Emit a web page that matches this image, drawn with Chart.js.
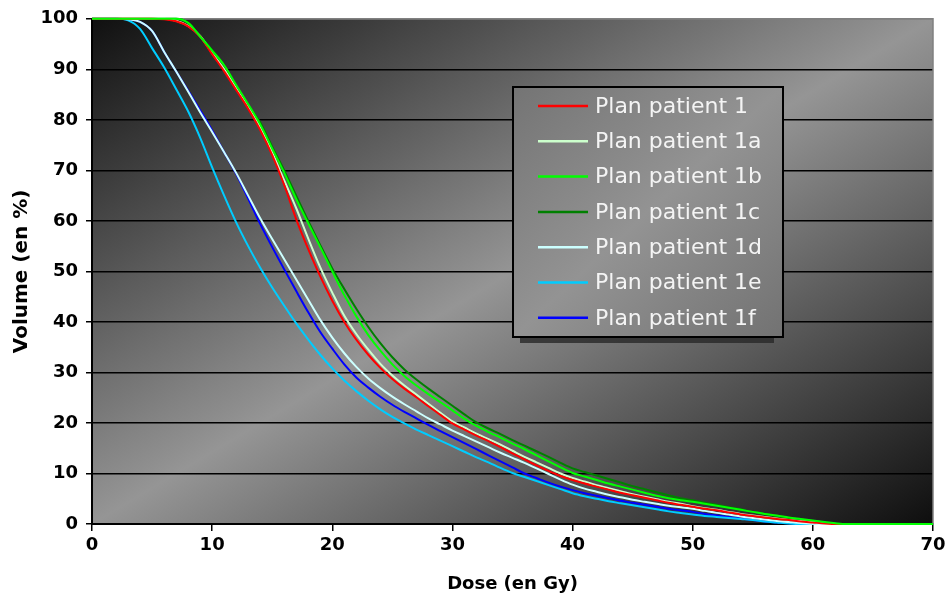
<!DOCTYPE html>
<html>
<head>
<meta charset="utf-8">
<title>Dose-volume histogram</title>
<script src="https://cdn.jsdelivr.net/npm/chart.js@4.4.1/dist/chart.umd.min.js"></script>
<style>
    body { margin: 0; background: #ffffff; }
    #wrap { width: 951px; height: 597px; }
</style>
</head>
<body>
<div id="wrap"><canvas id="dvhChart" width="951" height="597"></canvas></div>
<script>
// Dose axis (Gy) - one sample per Gy
const doses = [0, 1, 2, 3, 4, 5, 6, 7, 8, 9, 10, 11, 12, 13, 14, 15, 16, 17, 18, 19, 20,
    21, 22, 23, 24, 25, 26, 27, 28, 29, 30, 31, 32, 33, 34, 35, 36, 37, 38, 39, 40,
    41, 42, 43, 44, 45, 46, 47, 48, 49, 50, 51, 52, 53, 54, 55, 56, 57, 58, 59, 60,
    61, 62, 63, 64, 65, 66, 67, 68, 69, 70];

// Volume (%) for each plan
const plan1 = [100, 100, 100, 100, 100, 100, 99.9, 99.5, 98.5, 96.5, 93, 89.6, 85.9, 82.2, 78, 73, 67.1, 60.3, 54.4, 49, 44.2,
    40.0, 36.5, 33.5, 30.9, 28.7, 26.8, 25.1, 23.3, 21.6, 19.9, 18.7, 17.5, 16.4, 15.2, 14.0, 12.8, 11.6, 10.5, 9.5, 8.7,
    8.0, 7.4, 6.8, 6.2, 5.7, 5.2, 4.7, 4.2, 3.8, 3.4, 3.0, 2.7, 2.3, 1.9, 1.6, 1.3, 1.0, 0.8, 0.5, 0.3,
    0.1, 0, 0, 0, 0, 0, 0, 0, 0, 0];
const plan1a = [100, 100, 100, 100, 100, 100, 100, 99.6, 98.6, 96.6, 93.2, 90, 86.2, 82.5, 78.5, 73.5, 68, 62.5, 56.5, 50.8, 45.8,
    41.2, 37.6, 34.5, 31.7, 29.4, 27.4, 25.6, 23.8, 22.0, 20.3, 19.1, 17.9, 16.8, 15.7, 14.5, 13.3, 12.2, 11.1, 10, 9.1,
    8.4, 7.7, 7.1, 6.5, 5.9, 5.4, 4.9, 4.4, 4.0, 3.5, 3.1, 2.8, 2.4, 2.0, 1.7, 1.4, 1.1, 0.8, 0.6, 0.4,
    0.15, 0, 0, 0, 0, 0, 0, 0, 0, 0];
const plan1b = [100, 100, 100, 100, 100, 100, 100, 100, 99.2, 96.5, 93.7, 90.8, 86.9, 83.1, 79.1, 74.3, 69.5, 64.3, 59.5, 54.8, 50,
    45.3, 41.1, 37.4, 34.3, 31.6, 29.3, 27.4, 25.7, 24.1, 22.5, 20.8, 19.4, 18.2, 17.1, 15.9, 14.8, 13.6, 12.4, 11.2, 10.1,
    9.4, 8.7, 8.0, 7.4, 6.8, 6.2, 5.6, 5.1, 4.7, 4.4, 4.0, 3.6, 3.2, 2.8, 2.4, 2.0, 1.7, 1.3, 1.0, 0.7,
    0.4, 0.1, 0, 0, 0, 0, 0, 0, 0, 0];
const plan1c = [100, 100, 100, 100, 100, 100, 100, 100, 99.2, 96.6, 93.8, 90.8, 86.8, 83, 79.5, 74.7, 70, 65, 60, 55.2, 50.6,
    46.5, 42.6, 39.0, 35.8, 33.0, 30.6, 28.6, 26.8, 25.1, 23.4, 21.7, 20.1, 18.9, 17.8, 16.6, 15.5, 14.4, 13.3, 12.1, 11.0,
    10.3, 9.6, 8.9, 8.2, 7.5, 6.9, 6.3, 5.7, 5.1, 4.7, 4.2, 3.8, 3.3, 2.9, 2.4, 2.0, 1.6, 1.2, 0.9, 0.6,
    0.3, 0.05, 0, 0, 0, 0, 0, 0, 0, 0];
const plan1d = [100, 100, 100, 99.9, 99.4, 97.6, 93.5, 89.6, 85.6, 81.5, 77.6, 73.6, 69.5, 65, 60.5, 56.4, 52.4, 48.4, 44.4, 40.4, 36.9,
    33.8, 31.1, 28.8, 26.9, 25.2, 23.7, 22.3, 20.9, 19.7, 18.5, 17.4, 16.3, 15.2, 14.1, 13.1, 12.1, 11.0, 9.9, 8.8, 7.8,
    7.0, 6.4, 5.8, 5.3, 4.8, 4.4, 4.0, 3.6, 3.3, 3.0, 2.6, 2.2, 1.9, 1.5, 1.2, 0.9, 0.6, 0.4, 0.2, 0.05,
    0, 0, 0, 0, 0, 0, 0, 0, 0, 0];
const plan1e = [100, 100, 100, 99.7, 98, 94.2, 90.4, 86.1, 81.7, 76.5, 70.6, 65, 59.7, 55, 50.7, 46.8, 43.2, 39.7, 36.5, 33.5, 30.8,
    28.4, 26.3, 24.4, 22.7, 21.2, 19.9, 18.7, 17.6, 16.5, 15.4, 14.3, 13.2, 12.2, 11.1, 10.1, 9.3, 8.5, 7.7, 6.9, 6.1,
    5.5, 5.0, 4.5, 4.1, 3.7, 3.3, 2.9, 2.5, 2.2, 1.9, 1.6, 1.4, 1.2, 1.0, 0.8, 0.5, 0.3, 0.1, 0, 0,
    0, 0, 0, 0, 0, 0, 0, 0, 0, 0];
const plan1f = [100, 100, 100, 99.9, 99.4, 97.6, 93.5, 89.6, 85.8, 81.9, 77.9, 73.6, 69.3, 64.4, 59.4, 54.8, 50.4, 46.1, 41.9, 38.0, 34.7,
    31.6, 29.0, 27.0, 25.2, 23.6, 22.2, 20.9, 19.6, 18.4, 17.2, 16.0, 14.8, 13.6, 12.4, 11.2, 10.0, 9.1, 8.2, 7.4, 6.7,
    6.1, 5.6, 5.1, 4.6, 4.2, 3.8, 3.4, 3.0, 2.7, 2.4, 2.0, 1.7, 1.4, 1.1, 0.8, 0.5, 0.3, 0.15, 0.05, 0,
    0, 0, 0, 0, 0, 0, 0, 0, 0, 0];

const seriesLabels = ['Plan patient 1', 'Plan patient 1a', 'Plan patient 1b', 'Plan patient 1c',
    'Plan patient 1d', 'Plan patient 1e', 'Plan patient 1f'];
const seriesValues = [plan1, plan1a, plan1b, plan1c, plan1d, plan1e, plan1f];
const seriesColors = ['#ff0000', '#ccffcc', '#00ff00', '#008000', '#ccffff', '#00ccff', '#0000ff'];

const xTicks = [0, 10, 20, 30, 40, 50, 60, 70];
const yTicks = [0, 10, 20, 30, 40, 50, 60, 70, 80, 90, 100];

const FONT = 'DejaVu Sans';

// Excel-style diagonal gradient: dark corners top-left / bottom-right, light band in the middle
function diagonalGradient(ctx, x, y, w, h, stops) {
    const k = 2 * w * h / (w * w + h * h);
    const g = ctx.createLinearGradient(x, y, x + k * h, y + k * w);
    stops.forEach(s => g.addColorStop(s[0], s[1]));
    return g;
}

const plotBackground = {
    id: 'plotBackground',
    beforeDraw(chart) {
        const { ctx, chartArea: a } = chart;
        ctx.save();
        ctx.fillStyle = diagonalGradient(ctx, a.left, a.top, a.width, a.height,
            [[0, '#101010'], [0.5, '#959595'], [1, '#0e0e0e']]);
        ctx.fillRect(a.left, a.top, a.width, a.height);
        ctx.restore();
    },
    beforeDatasetsDraw(chart) {
        // grey frame on top / right, under the curves
        const { ctx, chartArea: a } = chart;
        ctx.save();
        ctx.strokeStyle = '#808080';
        ctx.lineWidth = 1.5;
        ctx.beginPath();
        ctx.moveTo(a.left, a.top);
        ctx.lineTo(a.right, a.top);
        ctx.lineTo(a.right, a.bottom);
        ctx.stroke();
        ctx.restore();
    }
};

const boxLegend = {
    id: 'boxLegend',
    afterDraw(chart) {
        const ctx = chart.ctx;
        const bx = 513, by = 87, bw = 270, bh = 250;
        ctx.save();
        ctx.fillStyle = 'rgba(40, 40, 40, 0.8)';
        ctx.fillRect(bx + 7, by + bh, bw - 16, 6);
        ctx.fillStyle = diagonalGradient(ctx, bx, by, bw, bh,
            [[0, '#747474'], [0.5, '#939393'], [1, '#727272']]);
        ctx.fillRect(bx, by, bw, bh);
        ctx.strokeStyle = '#000000';
        ctx.lineWidth = 2;
        ctx.strokeRect(bx, by, bw, bh);

        ctx.font = '22px "' + FONT + '"';
        ctx.textBaseline = 'middle';
        ctx.textAlign = 'left';
        chart.data.datasets.forEach((ds, i) => {
            const cy = by + 19 + i * 35.3;
            ctx.strokeStyle = ds.borderColor;
            ctx.lineWidth = 2.5;
            ctx.beginPath();
            ctx.moveTo(bx + 25, cy);
            ctx.lineTo(bx + 75, cy);
            ctx.stroke();
            ctx.fillStyle = '#f4f4f4';
            ctx.fillText(ds.label, bx + 82, cy + 1);
        });
        ctx.restore();
    }
};

const datasets = seriesLabels.map((label, i) => ({
    label: label,
    data: doses.map((d, j) => ({ x: d, y: seriesValues[i][j] })),
    borderColor: seriesColors[i],
    backgroundColor: seriesColors[i],
    borderWidth: 2,
    pointRadius: 0,
    cubicInterpolationMode: 'monotone',
    clip: 3,
    // bright green curve sits on top in the original
    order: i === 2 ? -1 : 0,
    fill: false
}));

new Chart(document.getElementById('dvhChart'), {
    type: 'line',
    data: { datasets: datasets },
    plugins: [plotBackground, boxLegend],
    options: {
        responsive: false,
        animation: false,
        layout: { padding: { top: 18, right: 18, left: 0, bottom: 0 } },
        plugins: {
            legend: { display: false },
            tooltip: { enabled: false }
        },
        scales: {
            x: {
                type: 'linear',
                min: 0,
                max: 70,
                afterBuildTicks: scale => { scale.ticks = xTicks.map(v => ({ value: v })); },
                afterFit: scale => { scale.height = 73; },
                grid: { drawOnChartArea: false, drawTicks: true, tickLength: 7, tickColor: '#000000', lineWidth: 1.5 },
                border: { color: '#000000', width: 2 },
                ticks: { color: '#000000', padding: 4, font: { family: FONT, size: 18, weight: 'bold' } },
                title: {
                    display: true,
                    text: 'Dose (en Gy)',
                    color: '#000000',
                    padding: { top: 0, bottom: 2 },
                    font: { family: FONT, size: 18, weight: 'bold' }
                }
            },
            y: {
                min: 0,
                max: 100,
                afterBuildTicks: scale => { scale.ticks = yTicks.map(v => ({ value: v })); },
                afterFit: scale => { scale.width = 92; },
                grid: {
                    color: c => (c.tick && c.tick.value === 100) ? '#808080' : '#000000',
                    tickColor: '#000000',
                    tickLength: 6,
                    lineWidth: 1.5
                },
                border: { color: '#000000', width: 2 },
                ticks: { color: '#000000', padding: 8, font: { family: FONT, size: 18, weight: 'bold' } },
                title: {
                    display: true,
                    text: 'Volume (en %)',
                    color: '#000000',
                    padding: { top: 10, bottom: 0 },
                    font: { family: FONT, size: 20, weight: 'bold' }
                }
            }
        }
    }
});
</script>
</body>
</html>
